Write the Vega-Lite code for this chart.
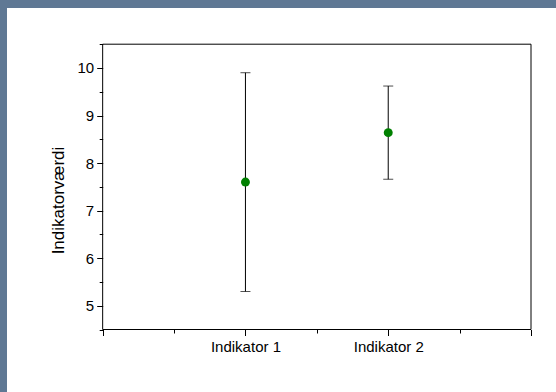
{
  "$schema": "https://vega.github.io/schema/vega-lite/v6.json",
  "width": 549,
  "height": 384,
  "autosize": {"type": "none"},
  "padding": {"left": 7, "top": 8, "right": 0, "bottom": 0},
  "background": "#5f7894",
  "config": {
    "view": {"fill": "white", "stroke": null},
    "font": "Liberation Sans",
    "axis": {"labelFont": "Liberation Sans", "titleFont": "Liberation Sans", "labelColor": "black", "titleColor": "black", "tickColor": "black", "grid": false, "domain": false}
  },
  "datasets": {
    "points": [
      {"indikator": "Indikator 1", "x": 1, "mean": 7.6, "lo": 5.3, "hi": 9.9},
      {"indikator": "Indikator 2", "x": 2, "mean": 8.64, "lo": 7.66, "hi": 9.62}
    ],
    "frame": [{"x0": 0, "x1": 3, "y0": 4.5, "y1": 10.5}]
  },
  "layer": [
    {
      "data": {"name": "frame"},
      "mark": {"type": "rect", "fill": null, "stroke": "black", "strokeWidth": 1},
      "encoding": {
        "x": {"field": "x0", "type": "quantitative", "scale": {"domain": [-0.670, 3.175], "nice": false, "zero": false},
              "axis": {"orient": "bottom", "offset": -62.5, "values": [0, 1, 2, 3], "tickSize": 6, "labelFontSize": 15, "labelPadding": 4,
                       "labelExpr": "datum.value == 1 ? 'Indikator 1' : (datum.value == 2 ? 'Indikator 2' : '')", "title": null}},
        "x2": {"field": "x1"},
        "y": {"field": "y0", "type": "quantitative", "scale": {"domain": [3.186, 11.261], "nice": false, "zero": false},
              "axis": {"orient": "left", "offset": -95.7, "values": [5, 6, 7, 8, 9, 10], "tickSize": 6, "labelFontSize": 15, "labelPadding": 3,
                       "title": "Indikatorværdi", "titleFontSize": 17, "titleFontWeight": "normal", "titlePadding": 10}},
        "y2": {"field": "y1"}
      }
    },
    {
      "data": {"name": "points"},
      "mark": {"type": "rule", "color": "black", "strokeWidth": 1},
      "encoding": {
        "x": {"field": "x", "type": "quantitative", "scale": {"domain": [-0.670, 3.175], "nice": false, "zero": false},
              "axis": {"orient": "bottom", "offset": -62.5, "values": [0.5, 1.5, 2.5], "tickSize": 3.5, "labels": false, "title": null}},
        "y": {"field": "lo", "type": "quantitative", "scale": {"domain": [3.186, 11.261], "nice": false, "zero": false},
              "axis": {"orient": "left", "offset": -95.7, "values": [4.5, 5.5, 6.5, 7.5, 8.5, 9.5, 10.5], "tickSize": 3.5, "labels": false, "title": null}},
        "y2": {"field": "hi"}
      }
    },
    {
      "data": {"name": "points"},
      "mark": {"type": "tick", "orient": "horizontal", "color": "black", "size": 10, "thickness": 1},
      "encoding": {
        "x": {"field": "x", "type": "quantitative", "scale": {"domain": [-0.670, 3.175], "nice": false, "zero": false}, "axis": null},
        "y": {"field": "hi", "type": "quantitative", "scale": {"domain": [3.186, 11.261], "nice": false, "zero": false}, "axis": null}
      }
    },
    {
      "data": {"name": "points"},
      "mark": {"type": "tick", "orient": "horizontal", "color": "black", "size": 10, "thickness": 1},
      "encoding": {
        "x": {"field": "x", "type": "quantitative", "scale": {"domain": [-0.670, 3.175], "nice": false, "zero": false}, "axis": null},
        "y": {"field": "lo", "type": "quantitative", "scale": {"domain": [3.186, 11.261], "nice": false, "zero": false}, "axis": null}
      }
    },
    {
      "data": {"name": "points"},
      "mark": {"type": "circle", "color": "#008000", "size": 80, "opacity": 1},
      "encoding": {
        "x": {"field": "x", "type": "quantitative", "scale": {"domain": [-0.670, 3.175], "nice": false, "zero": false}, "axis": null},
        "y": {"field": "mean", "type": "quantitative", "scale": {"domain": [3.186, 11.261], "nice": false, "zero": false}, "axis": null}
      }
    }
  ],
  "resolve": {"axis": {"x": "independent", "y": "independent"}}
}
